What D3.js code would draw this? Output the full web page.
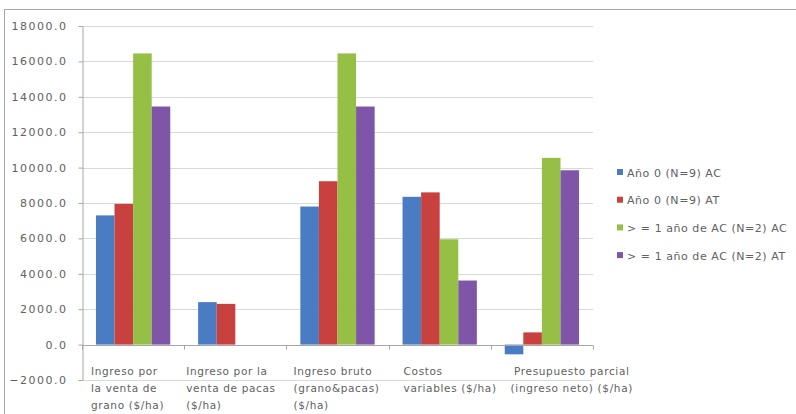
<!DOCTYPE html>
<html>
<head>
<meta charset="utf-8">
<script src="https://cdn.jsdelivr.net/npm/d3@7"></script>
<style>
  html, body { margin: 0; padding: 0; background: #ffffff; }
  svg { display: block; }
  text { font-family: "DejaVu Sans", "Open Sans", sans-serif; fill: #616161; }
</style>
</head>
<body>
<svg id="chart" width="796" height="414"></svg>
<script>
// Categories (wrapped label lines) and series values ($/ha)
const categories = [
  ["Ingreso por", "la venta de", "grano ($/ha)"],
  ["Ingreso por la", "venta de pacas", "($/ha)"],
  ["Ingreso bruto", "(grano&pacas)", "($/ha)"],
  ["Costos", "variables ($/ha)"],
  ["Presupuesto parcial", "(ingreso neto) ($/ha)"]
];
const seriesNames = [
  "Año 0 (N=9) AC",
  "Año 0 (N=9) AT",
  "> = 1 año de AC (N=2) AC",
  "> = 1 año de AC (N=2) AT"
];
const ano0AC   = [7300, 2400, 7800, 8350, -550];
const ano0AT   = [7950, 2300, 9230, 8600, 690];
const masUnoAC = [16450, 0, 16450, 5950, 10550];
const masUnoAT = [13450, 0, 13450, 3620, 9850];
const seriesValues = [ano0AC, ano0AT, masUnoAC, masUnoAT];
const colors = ["#4a7cc4", "#c9413f", "#95bf45", "#7f55a8"];
const yTicks = [-2000, 0, 2000, 4000, 6000, 8000, 10000, 12000, 14000, 16000, 18000];

const svg = d3.select("#chart");

// chart frame
svg.append("path")
  .attr("d", "M4.5,414 V9.5 H796")
  .attr("fill", "none").attr("stroke", "#a6a6a6").attr("stroke-width", 1);

const plot = { left: 82, right: 593, top: 26, bottom: 380 };

const y = d3.scaleLinear().domain([-2000, 18000]).range([plot.bottom, plot.top]);
const x0 = d3.scaleBand().domain(d3.range(categories.length))
  .range([plot.left, plot.right]).paddingInner(0).paddingOuter(0);
const x1 = d3.scaleBand().domain(d3.range(seriesNames.length))
  .range([0, x0.bandwidth()]).paddingInner(0).paddingOuter(0.75);

// gridlines
svg.append("g").selectAll("line").data(yTicks).join("line")
  .attr("x1", plot.left).attr("x2", plot.right)
  .attr("y1", d => Math.round(y(d)) + 0.5).attr("y2", d => Math.round(y(d)) + 0.5)
  .attr("stroke", "#d9d9d9").attr("stroke-width", 1);

// bars
const groups = svg.append("g").selectAll("g").data(categories).join("g")
  .attr("transform", (d, i) => `translate(${x0(i)},0)`);
groups.selectAll("rect")
  .data((d, i) => seriesValues.map((vals, s) => ({ s, v: vals[i] })))
  .join("rect")
  .attr("x", d => x1(d.s))
  .attr("width", x1.bandwidth())
  .attr("y", d => y(Math.max(0, d.v)))
  .attr("height", d => Math.abs(y(d.v) - y(0)))
  .attr("fill", d => colors[d.s]);

// y axis
const yAxis = d3.axisLeft(y).tickValues(yTicks).tickSize(4).tickSizeOuter(0)
  .tickFormat(d3.format(".1f"));
const gy = svg.append("g").attr("transform", `translate(${plot.left + 0.5},0)`).call(yAxis);
gy.attr("font-family", null);
gy.select(".domain").attr("stroke", "#a6a6a6");
gy.selectAll(".tick line").attr("stroke", "#a6a6a6");
gy.selectAll(".tick text").attr("x", -15).attr("font-size", 11)
  .attr("letter-spacing", "1.5px").style("fill", "#616161");

// x axis on the zero line
const zeroY = Math.round(y(0)) + 0.5;
svg.append("line").attr("x1", plot.left).attr("x2", plot.right)
  .attr("y1", zeroY).attr("y2", zeroY).attr("stroke", "#a6a6a6");
svg.append("g").selectAll("line").data(d3.range(categories.length + 1)).join("line")
  .attr("x1", i => Math.round(plot.left + i * x0.step()) + 0.5)
  .attr("x2", i => Math.round(plot.left + i * x0.step()) + 0.5)
  .attr("y1", zeroY).attr("y2", zeroY + 4)
  .attr("stroke", "#a6a6a6");

// category labels
const labelOffsets = [9, 2, 7, 15, 30];
const labels = svg.append("g").selectAll("text").data(categories).join("text")
  .attr("font-size", 10.5)
  .attr("letter-spacing", "0.65px")
  .attr("x", (d, i) => x0(i) + labelOffsets[i])
  .attr("y", 375);
labels.selectAll("tspan").data(d => d).join("tspan")
  .attr("x", function () { return d3.select(this.parentNode).attr("x"); })
  .attr("dy", (d, i) => i === 0 ? 0 : 17)
  .text(d => d);
// center the two-line net income label
labels.filter((d, i) => i === 4).selectAll("tspan")
  .attr("text-anchor", "middle")
  .attr("x", x0(4) + 81);

// legend
const legend = svg.append("g").selectAll("g").data(seriesNames).join("g")
  .attr("transform", (d, i) => `translate(617,${173 + i * 27.7})`);
legend.append("rect").attr("x", 0).attr("y", -4).attr("width", 6).attr("height", 6)
  .attr("fill", (d, i) => colors[i]);
legend.append("text").attr("x", 10).attr("y", 3.5).attr("font-size", 11)
  .attr("letter-spacing", "0.55px").text(d => d);
</script>
</body>
</html>
